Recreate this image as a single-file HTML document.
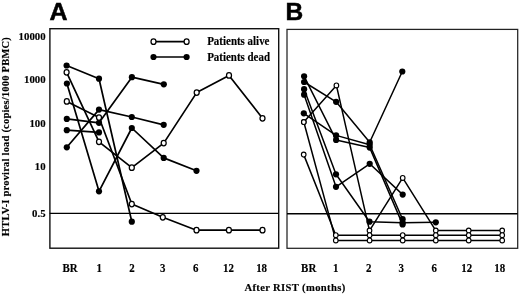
<!DOCTYPE html>
<html><head><meta charset="utf-8"><title>HTLV-I proviral load</title>
<style>
html,body{margin:0;padding:0;background:#fff;}
body{width:520px;height:294px;overflow:hidden;}
svg{display:block;}
.s{font-family:"Liberation Serif",serif;font-weight:bold;font-size:11.5px;fill:#000;stroke:#000;stroke-width:0.15;}
.h{font-family:"Liberation Sans",sans-serif;font-weight:bold;font-size:24px;fill:#000;stroke:#000;stroke-width:0.5;}
.la{stroke:#000;stroke-width:1.7;fill:none;stroke-linejoin:round;}
.lb{stroke:#000;stroke-width:1.5;fill:none;stroke-linejoin:round;}
.oa{fill:#fff;stroke:#000;stroke-width:1.25;}
.ob{fill:#fff;stroke:#000;stroke-width:1.15;}
.f{fill:#000;stroke:none;}
.fa{fill:none;stroke:#111;stroke-width:1.4;}
.fb{fill:none;stroke:#222;stroke-width:1.25;}
</style></head><body>
<svg width="520" height="294" viewBox="0 0 520 294">
<rect x="0" y="0" width="520" height="294" fill="#fff"/>

<rect class="fa" x="49.9" y="28.7" width="228.8" height="219.5"/>
<rect class="fb" x="287" y="29.4" width="230.7" height="218.9"/>
<line class="la" style="stroke-width:1.4" x1="49.7" y1="213.4" x2="278.7" y2="213.4"/>
<line class="lb" x1="287" y1="213.7" x2="517.7" y2="213.7"/>
<text class="h" transform="translate(49.4,19.8) scale(1.04,1)" x="0" y="0">A</text>
<text class="h" transform="translate(285.4,20.0) scale(1.02,1)" x="0" y="0">B</text>
<text class="s" style="font-size:10.8px" transform="translate(45.6,40.1) scale(1.0,1)" x="0" y="0" text-anchor="end">10000</text>
<text class="s" style="font-size:10.8px" transform="translate(45.6,83.4) scale(1.0,1)" x="0" y="0" text-anchor="end">1000</text>
<text class="s" style="font-size:10.8px" transform="translate(45.6,126.7) scale(1.0,1)" x="0" y="0" text-anchor="end">100</text>
<text class="s" style="font-size:10.8px" transform="translate(45.6,169.9) scale(1.0,1)" x="0" y="0" text-anchor="end">10</text>
<text class="s" style="font-size:10.8px" transform="translate(45.6,216.9) scale(1.0,1)" x="0" y="0" text-anchor="end">0.5</text>
<text class="s" style="font-size:10.5px" transform="translate(9,236.2) rotate(-90)" textLength="199" lengthAdjust="spacing">HTLV-I proviral load (copies/1000 PBMC)</text>
<text class="s" transform="translate(70,271.8) scale(0.95,1)" x="0" y="0" text-anchor="middle">BR</text>
<text class="s" transform="translate(99.25,271.8) scale(0.95,1)" x="0" y="0" text-anchor="middle">1</text>
<text class="s" transform="translate(132,271.8) scale(0.95,1)" x="0" y="0" text-anchor="middle">2</text>
<text class="s" transform="translate(162.7,271.8) scale(0.95,1)" x="0" y="0" text-anchor="middle">3</text>
<text class="s" transform="translate(195.6,271.8) scale(0.95,1)" x="0" y="0" text-anchor="middle">6</text>
<text class="s" transform="translate(228.4,271.8) scale(0.95,1)" x="0" y="0" text-anchor="middle">12</text>
<text class="s" transform="translate(261.6,271.8) scale(0.95,1)" x="0" y="0" text-anchor="middle">18</text>
<text class="s" transform="translate(308.7,271.8) scale(0.95,1)" x="0" y="0" text-anchor="middle">BR</text>
<text class="s" transform="translate(335.8,271.8) scale(0.95,1)" x="0" y="0" text-anchor="middle">1</text>
<text class="s" transform="translate(368.6,271.8) scale(0.95,1)" x="0" y="0" text-anchor="middle">2</text>
<text class="s" transform="translate(401.3,271.8) scale(0.95,1)" x="0" y="0" text-anchor="middle">3</text>
<text class="s" transform="translate(434.3,271.8) scale(0.95,1)" x="0" y="0" text-anchor="middle">6</text>
<text class="s" transform="translate(466.7,271.8) scale(0.95,1)" x="0" y="0" text-anchor="middle">12</text>
<text class="s" transform="translate(499.7,271.8) scale(0.95,1)" x="0" y="0" text-anchor="middle">18</text>
<text class="s" style="font-size:10.6px" x="244.4" y="291.2" textLength="100.8" lengthAdjust="spacing">After RIST (months)</text>
<line class="la" x1="153.5" y1="41.7" x2="186.6" y2="41.7"/>
<line class="la" x1="153.5" y1="57" x2="186.6" y2="57"/>
<text class="s" x="207.2" y="45.4" textLength="62.3" lengthAdjust="spacingAndGlyphs">Patients alive</text>
<text class="s" x="207.2" y="60.6" textLength="62.8" lengthAdjust="spacingAndGlyphs">Patients dead</text>
<polyline class="la" points="66.6,65.5 99,78.7 131.8,221.7"/>
<polyline class="la" points="66.9,83.5 99,191.3 131.8,128 163.7,157.9 196.5,170.8"/>
<polyline class="la" points="66.8,118.9 99,122.8 131.9,77.2 163.8,84.3"/>
<polyline class="la" points="66.8,130.2 99,132.4"/>
<polyline class="la" points="66.8,147.3 99,109.6 131.8,117 163.7,124.8"/>
<polyline class="la" points="66.6,72.3 99,141.8 131.8,167.7 163.7,143.1 196.7,92.6 229,75.4 262.5,118.3"/>
<polyline class="la" points="66.8,101.4 99,117.5 131.8,204 162.8,217.3 196.5,230.2 228.9,230.2 262.5,230.2"/>
<polyline class="lb" points="304.1,76.3 336.1,139.9 369.7,147.6 402.6,224.4"/>
<polyline class="lb" points="304.1,82 336.1,101.8 369.7,142.3 402.3,71.5"/>
<polyline class="lb" points="304.1,89.2 336,174.3 369.5,221.7 402.6,222.7 435.8,222.3"/>
<polyline class="lb" points="304.1,94.7 336,186.8 369.7,163.8 402.7,194.6"/>
<polyline class="lb" points="303.8,113.3 336.1,135.4 369.7,144.8 402.6,219.2"/>
<polyline class="lb" points="303.8,122 336.4,85.4 369.5,230.6 402.7,177.9 435.8,230.6 468.7,230.6 502.2,230.6"/>
<polyline class="lb" points="303.8,122 335.8,240.4 369.6,240.4 402.7,240.4 435.8,240.4 468.7,240.4 502.2,240.4"/>
<polyline class="lb" points="303.7,154.6 335.8,235.2 369.6,235.2 402.7,235.2 435.8,235.2 468.7,235.2 502.2,235.2"/>
<circle class="f" cx="66.6" cy="65.5" r="3.1"/>
<circle class="f" cx="99" cy="78.7" r="3.1"/>
<circle class="f" cx="131.8" cy="221.7" r="3.1"/>
<circle class="f" cx="66.9" cy="83.5" r="3.1"/>
<circle class="f" cx="99" cy="191.3" r="3.1"/>
<circle class="f" cx="131.8" cy="128" r="3.1"/>
<circle class="f" cx="163.7" cy="157.9" r="3.1"/>
<circle class="f" cx="196.5" cy="170.8" r="3.1"/>
<circle class="f" cx="66.8" cy="118.9" r="3.1"/>
<circle class="f" cx="99" cy="122.8" r="3.1"/>
<circle class="f" cx="131.9" cy="77.2" r="3.1"/>
<circle class="f" cx="163.8" cy="84.3" r="3.1"/>
<circle class="f" cx="66.8" cy="130.2" r="3.1"/>
<circle class="f" cx="99" cy="132.4" r="3.1"/>
<circle class="f" cx="66.8" cy="147.3" r="3.1"/>
<circle class="f" cx="99" cy="109.6" r="3.1"/>
<circle class="f" cx="131.8" cy="117" r="3.1"/>
<circle class="f" cx="163.7" cy="124.8" r="3.1"/>
<circle class="f" cx="304.1" cy="76.3" r="3.1"/>
<circle class="f" cx="336.1" cy="139.9" r="3.1"/>
<circle class="f" cx="369.7" cy="147.6" r="3.1"/>
<circle class="f" cx="402.6" cy="224.4" r="3.1"/>
<circle class="f" cx="304.1" cy="82" r="3.1"/>
<circle class="f" cx="336.1" cy="101.8" r="3.1"/>
<circle class="f" cx="369.7" cy="142.3" r="3.1"/>
<circle class="f" cx="402.3" cy="71.5" r="3.1"/>
<circle class="f" cx="304.1" cy="89.2" r="3.1"/>
<circle class="f" cx="336" cy="174.3" r="3.1"/>
<circle class="f" cx="369.5" cy="221.7" r="3.1"/>
<circle class="f" cx="402.6" cy="222.7" r="3.1"/>
<circle class="f" cx="435.8" cy="222.3" r="3.1"/>
<circle class="f" cx="304.1" cy="94.7" r="3.1"/>
<circle class="f" cx="336" cy="186.8" r="3.1"/>
<circle class="f" cx="369.7" cy="163.8" r="3.1"/>
<circle class="f" cx="402.7" cy="194.6" r="3.1"/>
<circle class="f" cx="303.8" cy="113.3" r="3.1"/>
<circle class="f" cx="336.1" cy="135.4" r="3.1"/>
<circle class="f" cx="369.7" cy="144.8" r="3.1"/>
<circle class="f" cx="402.6" cy="219.2" r="3.1"/>
<circle class="f" cx="153.5" cy="57" r="3.1"/>
<circle class="f" cx="186.6" cy="57" r="3.1"/>
<ellipse class="oa" cx="66.6" cy="72.3" rx="2.5" ry="2.75"/>
<ellipse class="oa" cx="99" cy="141.8" rx="2.5" ry="2.75"/>
<ellipse class="oa" cx="131.8" cy="167.7" rx="2.5" ry="2.75"/>
<ellipse class="oa" cx="163.7" cy="143.1" rx="2.5" ry="2.75"/>
<ellipse class="oa" cx="196.7" cy="92.6" rx="2.5" ry="2.75"/>
<ellipse class="oa" cx="229" cy="75.4" rx="2.5" ry="2.75"/>
<ellipse class="oa" cx="262.5" cy="118.3" rx="2.5" ry="2.75"/>
<ellipse class="oa" cx="66.8" cy="101.4" rx="2.5" ry="2.75"/>
<ellipse class="oa" cx="99" cy="117.5" rx="2.5" ry="2.75"/>
<ellipse class="oa" cx="131.8" cy="204" rx="2.5" ry="2.75"/>
<ellipse class="oa" cx="162.8" cy="217.3" rx="2.5" ry="2.75"/>
<ellipse class="oa" cx="196.5" cy="230.2" rx="2.5" ry="2.75"/>
<ellipse class="oa" cx="228.9" cy="230.2" rx="2.5" ry="2.75"/>
<ellipse class="oa" cx="262.5" cy="230.2" rx="2.5" ry="2.75"/>
<ellipse class="oa" cx="153.5" cy="41.7" rx="2.5" ry="2.75"/>
<ellipse class="oa" cx="186.6" cy="41.7" rx="2.5" ry="2.75"/>
<ellipse class="ob" cx="303.8" cy="122" rx="2.3" ry="2.45"/>
<ellipse class="ob" cx="336.4" cy="85.4" rx="2.3" ry="2.45"/>
<ellipse class="ob" cx="369.5" cy="230.6" rx="2.3" ry="2.45"/>
<ellipse class="ob" cx="402.7" cy="177.9" rx="2.3" ry="2.45"/>
<ellipse class="ob" cx="435.8" cy="230.6" rx="2.3" ry="2.45"/>
<ellipse class="ob" cx="468.7" cy="230.6" rx="2.3" ry="2.45"/>
<ellipse class="ob" cx="502.2" cy="230.6" rx="2.3" ry="2.45"/>
<ellipse class="ob" cx="303.8" cy="122" rx="2.3" ry="2.45"/>
<ellipse class="ob" cx="335.8" cy="240.4" rx="2.3" ry="2.45"/>
<ellipse class="ob" cx="369.6" cy="240.4" rx="2.3" ry="2.45"/>
<ellipse class="ob" cx="402.7" cy="240.4" rx="2.3" ry="2.45"/>
<ellipse class="ob" cx="435.8" cy="240.4" rx="2.3" ry="2.45"/>
<ellipse class="ob" cx="468.7" cy="240.4" rx="2.3" ry="2.45"/>
<ellipse class="ob" cx="502.2" cy="240.4" rx="2.3" ry="2.45"/>
<ellipse class="ob" cx="303.7" cy="154.6" rx="2.3" ry="2.45"/>
<ellipse class="ob" cx="335.8" cy="235.2" rx="2.3" ry="2.45"/>
<ellipse class="ob" cx="369.6" cy="235.2" rx="2.3" ry="2.45"/>
<ellipse class="ob" cx="402.7" cy="235.2" rx="2.3" ry="2.45"/>
<ellipse class="ob" cx="435.8" cy="235.2" rx="2.3" ry="2.45"/>
<ellipse class="ob" cx="468.7" cy="235.2" rx="2.3" ry="2.45"/>
<ellipse class="ob" cx="502.2" cy="235.2" rx="2.3" ry="2.45"/>
</svg></body></html>
